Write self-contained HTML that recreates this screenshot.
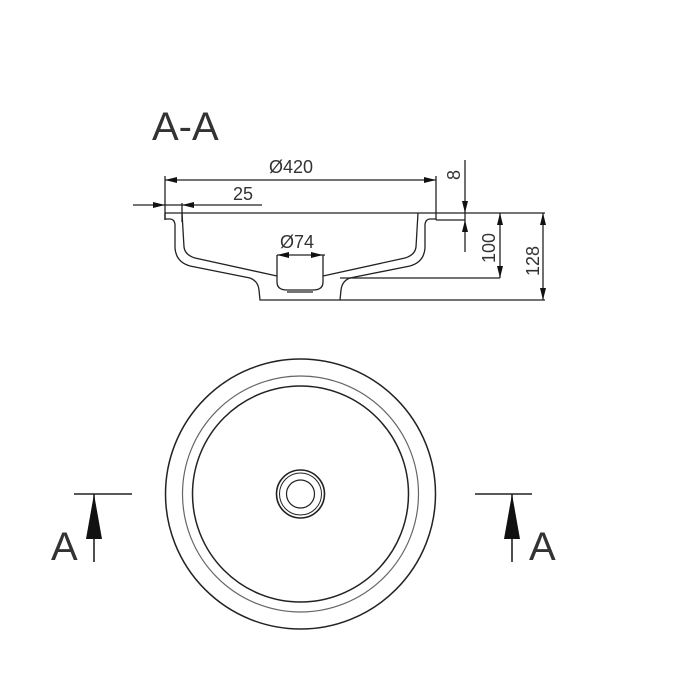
<!DOCTYPE html>
<html><head><style>
body{margin:0;background:#fff;}
svg{display:block;}
text{font-family:"Liberation Sans",sans-serif;fill:#333;}
</style></head><body>
<svg width="700" height="700" viewBox="0 0 700 700" xmlns="http://www.w3.org/2000/svg">
<text x="152" y="140" font-size="40">A-A</text>
<g stroke="#222" fill="none" stroke-width="1.3">
<line x1="165" y1="180" x2="436" y2="180"/>
<line x1="165" y1="176" x2="165" y2="220"/>
<line x1="436" y1="176" x2="436" y2="220"/>
<line x1="133" y1="205" x2="262" y2="205"/>
<line x1="182" y1="203" x2="182" y2="222"/>
<line x1="465" y1="160" x2="465" y2="252"/>
<line x1="165" y1="213" x2="545" y2="213"/>
<line x1="436" y1="220" x2="465" y2="220"/>
<line x1="500" y1="213" x2="500" y2="278"/>
<line x1="543" y1="213" x2="543" y2="300"/>
<line x1="340" y1="278" x2="500" y2="278"/>
<line x1="340" y1="300" x2="545" y2="300"/>
<line x1="277" y1="255" x2="325" y2="255"/>
<path d="M165 213 L165 219 L170 219 Q174 219 175 224 L175 248 Q176 262 190 266 L250 278 Q258 281 259 290 L260 300 L340 300 L341 290 Q342 281 350 278 L410 266 Q424 262 425 248 L425 224 Q426 219 430 219 L436 219"/>
<path d="M182 213 L184 247 Q185 255 195 258 L277 276"/>
<path d="M418 213 L416 247 Q415 255 405 258 L323 276"/>
<path d="M277 255 L277 282 Q277 290 287 290 L313 290 Q323 290 323 282 L323 255"/>
<line x1="287" y1="292" x2="313" y2="292"/>
<circle cx="300.5" cy="494" r="135" stroke-width="1.5"/>
<circle cx="300.5" cy="494" r="118" stroke="#666" stroke-width="1.2"/>
<circle cx="300.5" cy="494" r="108" stroke-width="1.5"/>
<circle cx="300.5" cy="494" r="24" stroke-width="1.6"/>
<circle cx="300.5" cy="494" r="21" stroke-width="1"/>
<circle cx="300.5" cy="494" r="14" stroke-width="1.2"/>
<line x1="74" y1="494" x2="132" y2="494" stroke-width="1.6"/>
<line x1="94" y1="494" x2="94" y2="562" stroke-width="1.6"/>
<line x1="475" y1="494" x2="532" y2="494" stroke-width="1.6"/>
<line x1="512" y1="494" x2="512" y2="562" stroke-width="1.6"/>
</g>
<g fill="#111">
<polygon points="94,494 86,539 102,539"/>
<polygon points="512,494 504,539 520,539"/>
<polygon points="165,180 177,177 177,183"/>
<polygon points="436,180 424,177 424,183"/>
<polygon points="165,205 153,202 153,208"/>
<polygon points="182,205 194,202 194,208"/>
<polygon points="465,213 462,201 468,201"/>
<polygon points="465,220 462,232 468,232"/>
<polygon points="500,213 497,225 503,225"/>
<polygon points="500,278 497,266 503,266"/>
<polygon points="543,213 540,225 546,225"/>
<polygon points="543,300 540,288 546,288"/>
<polygon points="277,255 289,252 289,258"/>
<polygon points="323,255 311,252 311,258"/>
</g>
<text x="269" y="173" font-size="18">Ø420</text>
<text x="233" y="200" font-size="18">25</text>
<text x="280" y="248" font-size="18">Ø74</text>
<text transform="translate(460,180) rotate(-90)" font-size="18">8</text>
<text transform="translate(495,263) rotate(-90)" font-size="18">100</text>
<text transform="translate(539,276) rotate(-90)" font-size="18">128</text>
<text x="51" y="560" font-size="40">A</text>
<text x="529" y="560" font-size="40">A</text>
</svg>
</body></html>
